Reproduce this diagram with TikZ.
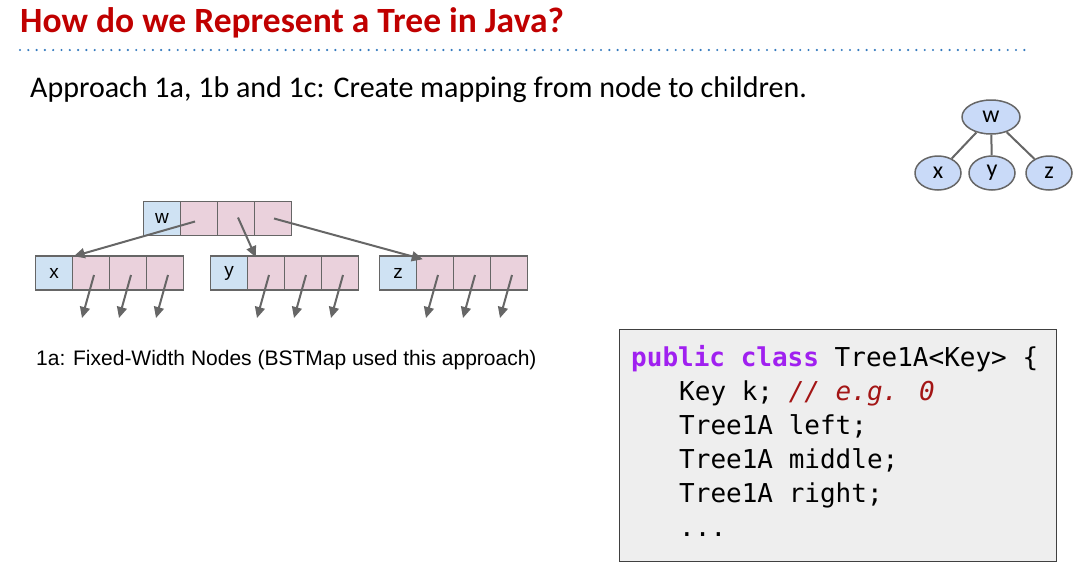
\documentclass[tikz,border=0pt]{standalone}
\usepackage{fontspec}
\setmainfont{Carlito}
\newfontfamily\arialf{Liberation Sans}
\newfontfamily\codef{DejaVu Sans Mono}
\usetikzlibrary{arrows.meta,shapes.geometric}
\definecolor{titlered}{RGB}{192,0,0}
\definecolor{dotblue}{RGB}{52,122,190}
\definecolor{keyblue}{RGB}{207,226,243}
\definecolor{ptrpink}{RGB}{234,209,220}
\definecolor{edgegray}{RGB}{102,102,102}
\definecolor{treefill}{RGB}{201,218,248}
\definecolor{kwpurple}{RGB}{160,32,240}
\definecolor{cmtred}{RGB}{163,21,21}
\definecolor{codebg}{RGB}{238,238,238}
\begin{document}
\begin{tikzpicture}[x=1pt,y=-1pt,
  keycell/.style={draw=edgegray,line width=1.5pt,fill=keyblue,minimum width=37pt,minimum height=34pt,inner sep=0pt,font=\arialf\fontsize{19}{21}\selectfont},
  ptrcell/.style={draw=edgegray,line width=1.5pt,fill=ptrpink,minimum width=37pt,minimum height=34pt,inner sep=0pt},
  ptr/.style={draw=edgegray,line width=2pt,-{Triangle[length=11pt,width=10pt]}},
  tnode/.style={ellipse,draw=edgegray,line width=1.5pt,fill=treefill,inner sep=0pt,minimum width=46pt,minimum height=34pt,font=\fontsize{24}{26}\selectfont},
  tedge/.style={draw=edgegray,line width=2pt},
  codeline/.style={anchor=base west,inner sep=0pt,font=\codef\fontsize{26}{28}\selectfont}
]
\useasboundingbox (0,0) rectangle (1073,573);
% title
\node[anchor=base west,inner sep=0pt,text=titlered,font=\bfseries\fontsize{35.5}{38}\selectfont] (title) at (20,32) {How do we Represent a Tree in Java?};
\draw[dotblue,line width=2.4pt,line cap=round,dash pattern=on 0pt off 8.3pt] (20,50) -- (1025,50);
\node[anchor=base west,inner sep=0pt,font=\fontsize{30}{34}\selectfont] (sub) at (30,97) {Approach 1a, 1b and 1c: Create mapping from node to children.};
% tree
\node[tnode,minimum width=58pt] (tw) at (991,117) {w};
\node[tnode] (tx) at (938,173) {x};
\node[tnode] (ty) at (992,173) {y};
\node[tnode] (tz) at (1049,173) {z};
\draw[tedge] (tw) -- (tx);
\draw[tedge] (tw) -- (ty);
\draw[tedge] (tw) -- (tz);
% top box
\node[keycell] (w0) at (162,218.5) {w};
\node[ptrcell] (w1) at (199,218.5) {};
\node[ptrcell] (w2) at (236,218.5) {};
\node[ptrcell] (w3) at (273,218.5) {};
% child boxes
\foreach \name/\lab/\x in {x/x/54, y/y/229, z/z/398}{
  \node[keycell] (\name0) at (\x,273) {\lab};
  \node[ptrcell] (\name1) at (\x+37,273) {};
  \node[ptrcell] (\name2) at (\x+74,273) {};
  \node[ptrcell] (\name3) at (\x+111,273) {};
  \foreach \i in {1,2,3}{
    \coordinate (\name\i s) at ([xshift=3pt,yshift=-2pt]\name\i.center);
    \coordinate (\name\i e) at ([xshift=-9pt,yshift=-45pt]\name\i.center);
    \draw[ptr] (\name\i s) -- (\name\i e);
  }
}
\draw[ptr] ([xshift=-4pt,yshift=-3pt]w1.center) -- ([xshift=2pt,yshift=-1pt]x1.north west);
\draw[ptr] ([xshift=2pt,yshift=1pt]w2.center) -- ([xshift=9pt,yshift=-2pt]y1.north west);
\draw[ptr] ([xshift=1pt,yshift=0pt]w3.center) -- ([xshift=7pt,yshift=-4pt]z1.north west);
% caption
\node[anchor=base west,inner sep=0pt,font=\arialf\fontsize{21}{24}\selectfont] (cap) at (36,365) {1a: Fixed-Width Nodes (BSTMap used this approach)};
% code
\node[draw=black!75,line width=1.2pt,fill=codebg,minimum width=437pt,minimum height=232pt,anchor=north west,inner sep=0pt] (codebox) at (619,329) {};
\node[codeline] (c1) at (631,366) {\textcolor{kwpurple}{\bfseries public class} Tree1A<Key> \{};
\node[codeline] (c2) at (679,400.5) {Key k; \textcolor{cmtred}{\itshape // e.g. 0}};
\node[codeline] (c3) at (679,434.5) {Tree1A left;};
\node[codeline] (c4) at (679,468.5) {Tree1A middle;};
\node[codeline] (c5) at (679,502.5) {Tree1A right;};
\node[codeline] (c6) at (679,536.5) {...};
\end{tikzpicture}
\end{document}
